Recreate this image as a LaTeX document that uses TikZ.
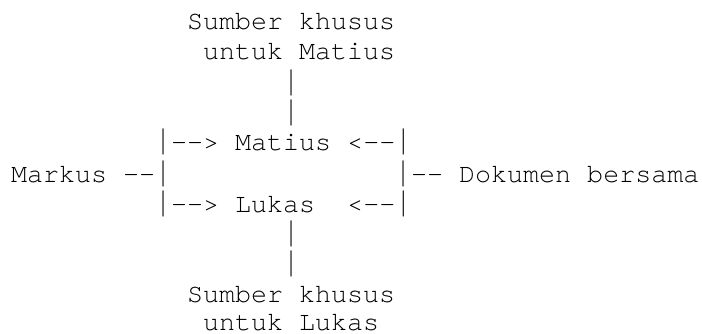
\documentclass[tikz,border=0pt]{standalone}
\usepackage{fontspec}
\usepackage{graphicx}
\setmonofont{TeX Gyre Cursor}
\newsavebox\pipebox
% a "|" stretched to the height of the reference's bar (26pt, 5pt below the baseline)
\newcommand\vb{\sbox\pipebox{|}%
  \pgfmathsetmacro\pipek{26/(\ht\pipebox+\dp\pipebox)}%
  \raisebox{-5pt}{\scalebox{1}[\pipek]{\raisebox{\dp\pipebox}{|}}}}
\begin{document}
\begin{tikzpicture}[x=1pt,y=1pt,
  asciirow/.style={anchor=base west,inner sep=0pt,outer sep=0pt,
    font=\ttfamily\fontsize{26.7}{30.3}\selectfont}]
\useasboundingbox (0,0) rectangle (702,333);
\node[asciirow] (top1)    at (187,304) {Sumber khusus};
\node[asciirow] (top2)    at (203,273) {untuk Matius};
\node[asciirow] (pipeA)   at (283,242) {\vb};
\node[asciirow] (pipeB)   at (283,212) {\vb};
\node[asciirow] (matius)  at (155,183) {\vb-{}-> Matius <-{}-\vb};
\node[asciirow] (markus)  at (11,151)  {Markus -{}-\vb};
\node[asciirow] (dokumen) at (395,151) {\vb-{}- Dokumen bersama};
\node[asciirow] (lukas)   at (155,121) {\vb-{}-> Lukas\ \ <-{}-\vb};
\node[asciirow] (pipeC)   at (283,91)  {\vb};
\node[asciirow] (pipeD)   at (283,61)  {\vb};
\node[asciirow] (bot1)    at (187,31)  {Sumber khusus};
\node[asciirow] (bot2)    at (203,2.5) {untuk Lukas};
\end{tikzpicture}
\end{document}
